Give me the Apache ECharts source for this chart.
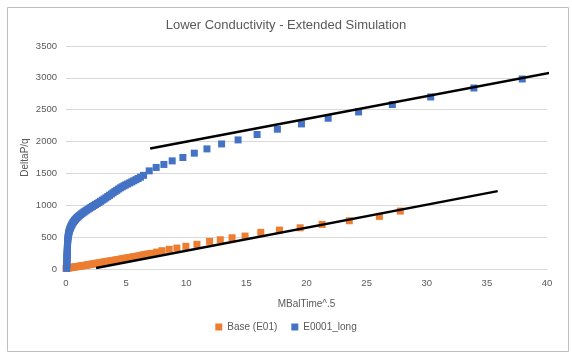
<!DOCTYPE html>
<html>
<head>
<meta charset="utf-8">
<script src="https://cdn.jsdelivr.net/npm/echarts@6/dist/echarts.min.js"></script>
<style>
html,body{margin:0;padding:0;background:#fff;}
#c{width:572px;height:353px;}
</style>
</head>
<body>
<div id="c"></div>
<script>
// ---- data ----
const titleText = "Lower Conductivity - Extended Simulation";
const xName = "MBalTime^.5";
const yName = "DeltaP/q";
const baseName = "Base (E01)";
const longName = "E0001_long";

const baseData = [
  [0,10],[0.1,13],[0.2,16],[0.3,19],[0.4,22],[0.5,25],[0.6,28],[0.7,31],[0.8,34],[0.9,37],
  [1,40],[1.1,43],[1.2,46],[1.3,49],[1.4,52],[1.5,55],[1.6,58],[1.7,61],[1.8,64],[1.9,68],
  [2,72],[2.12,76],[2.25,80],[2.38,84],[2.5,88],[2.62,92],[2.75,96],[2.88,100],[3,104],
  [3.12,108],[3.25,112],[3.38,116],[3.5,120],[3.62,124],[3.75,128],[3.88,132],[4,136],
  [4.12,140],[4.25,144],[4.38,148],[4.5,152],[4.62,157],[4.75,162],[4.88,166],[5,170],
  [5.15,175],[5.3,180],[5.45,185],[5.6,190],[5.75,195],[5.9,200],[6.05,206],[6.2,212],
  [6.35,218],[6.5,224],[6.65,229],[6.8,234],[6.97,240],[7.14,246],[7.55,266],[7.98,287],
  [8.58,309],[9.22,329],[9.97,356],[10.89,387],
  [11.94,434],[12.83,459],[13.81,490],[14.89,517],[16.2,575],[17.75,611],[19.47,647],
  [21.3,700],[23.56,757],[26.06,826],[27.8,909]
];

const longData = [
  [0.05,10],[0.055,35],[0.06,60],[0.065,85],[0.07,110],[0.075,135],[0.08,160],[0.085,185],
  [0.09,210],[0.095,235],[0.1,260],[0.105,285],[0.11,310],[0.115,335],[0.12,360],
  [0.125,385],[0.13,410],[0.14,435],[0.15,460],[0.16,485],[0.18,510],[0.2,535],
  [0.22,555],[0.24,575],[0.27,595],[0.3,615],[0.34,635],[0.38,655],[0.42,672],[0.47,690],
  [0.52,708],[0.57,725],[0.63,742],[0.7,760],[0.77,776],[0.85,792],[0.93,808],[1.01,822],
  [1.1,837],[1.2,852],[1.3,867],[1.4,881],[1.5,895],[1.6,909],[1.72,924],[1.84,939],
  [1.96,954],[2.08,968],[2.2,982],[2.33,997],[2.46,1012],[2.6,1028],[2.74,1045],
  [2.88,1062],[3.02,1080],[3.17,1098],[3.32,1117],[3.47,1137],[3.62,1157],[3.77,1177],
  [3.92,1197],[4.07,1217],[4.22,1236],[4.37,1255],[4.52,1273],[4.67,1290],[4.82,1306],
  [4.97,1321],[5.13,1336],[5.3,1352],[5.47,1368],[5.64,1385],[5.82,1402],[6.0,1420],
  [6.2,1442],[6.45,1470],[6.92,1540],[7.5,1594],[8.14,1641],[8.83,1697],[9.72,1750],[10.67,1818],
  [11.72,1885],[12.94,1963],[14.31,2026],[15.89,2111],[17.58,2194],[19.58,2277],
  [21.8,2366],[24.33,2465],[27.14,2581],[30.33,2700],[33.92,2841],[37.94,2982]
];

const baseFit = [[2.5,16],[35.9,1222]];
const longFit = [[7.0,1891],[40.3,3082]];

const xTicks = {min:0, max:40, interval:5};
const yTicks = {min:0, max:3500, interval:500};

// ---- chart ----
const font = "'Liberation Sans', 'DejaVu Sans', sans-serif";
const chart = echarts.init(document.getElementById('c'), null, {renderer:'canvas'});
chart.setOption({
  animation:false,
  backgroundColor:'#ffffff',
  graphic:[{
    type:'rect', left:5, top:5, shape:{width:561, height:344},
    style:{fill:'none', stroke:'#bfbfbf', lineWidth:1}, silent:true, z:-1
  }],
  title:{
    text:titleText, left:'center', top:14,
    textStyle:{fontFamily:font, fontSize:13, fontWeight:'normal', color:'#595959'}
  },
  legend:{
    data:[baseName, longName], bottom:16, left:'center',
    itemWidth:7, itemHeight:7, itemGap:14, icon:'rect',
    textStyle:{fontFamily:font, fontSize:10, color:'#595959'}
  },
  grid:{left:66, right:25, top:46, bottom:84, containLabel:false},
  xAxis:{
    type:'value', min:xTicks.min, max:xTicks.max, interval:xTicks.interval,
    name:xName, nameLocation:'middle', nameGap:30, nameMoveOverlap:false,
    nameTextStyle:{fontFamily:font, fontSize:10, color:'#595959'},
    axisLine:{show:true, lineStyle:{color:'#d9d9d9'}},
    axisTick:{show:false},
    axisLabel:{fontFamily:font, fontSize:9.5, color:'#595959', margin:9},
    splitLine:{show:false}
  },
  yAxis:{
    type:'value', min:yTicks.min, max:yTicks.max, interval:yTicks.interval,
    name:yName, nameLocation:'middle', nameGap:36, nameMoveOverlap:false,
    nameTextStyle:{fontFamily:font, fontSize:10, color:'#595959'},
    axisLine:{show:false}, axisTick:{show:false},
    axisLabel:{fontFamily:font, fontSize:9.5, color:'#595959', margin:9,
               formatter:function(v){return String(v);}},
    splitLine:{show:true, lineStyle:{color:'#d9d9d9'}}
  },
  series:[
    {name:baseName, type:'scatter', data:baseData, symbol:'rect', symbolSize:7,
     itemStyle:{color:'#ED7D31', opacity:1}, z:2},
    {name:longName, type:'scatter', data:longData, symbol:'rect', symbolSize:7,
     itemStyle:{color:'#4472C4', opacity:1}, z:2},
    {name:'baseFit', type:'line', data:baseFit, showSymbol:false, symbol:'none',
     lineStyle:{color:'#000', width:2.5}, z:3},
    {name:'longFit', type:'line', data:longFit, showSymbol:false, symbol:'none',
     lineStyle:{color:'#000', width:2.5}, z:3}
  ]
});
</script>
</body>
</html>
